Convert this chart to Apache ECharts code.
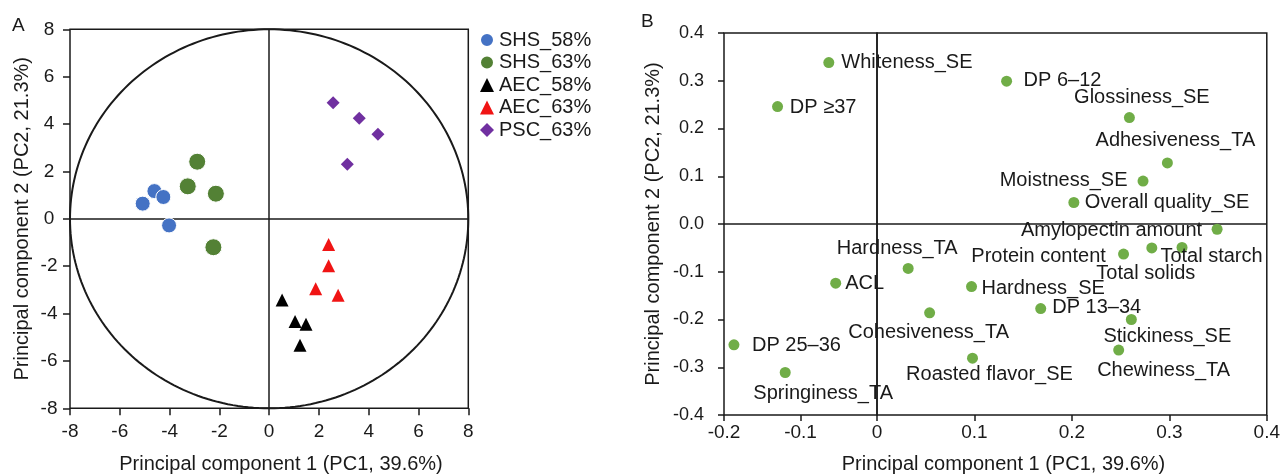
<!DOCTYPE html>
<html><head><meta charset="utf-8">
<script src="https://cdn.jsdelivr.net/npm/echarts@6/dist/echarts.min.js"></script>
<style>html,body{margin:0;padding:0;background:#fff}#c{width:1283px;height:474px}</style>
</head><body><div id="c"></div>
<script>
// ---------- Panel A: scores ----------
const A_NAMES = ['SHS_58%', 'SHS_63%', 'AEC_58%', 'AEC_63%', 'PSC_63%'];
const SHS_58 = [[-5.08, 0.64], [-4.61, 1.17], [-4.25, 0.92], [-4.02, -0.28]];
const SHS_63 = [[-2.89, 2.41], [-3.27, 1.37], [-2.14, 1.06], [-2.24, -1.20]];
const AEC_58 = [[0.52, -3.43], [1.04, -4.34], [1.48, -4.45], [1.24, -5.34]];
const AEC_63 = [[2.39, -1.09], [2.39, -1.98], [1.87, -2.95], [2.77, -3.23]];
const PSC_63 = [[2.57, 4.90], [3.62, 4.25], [4.37, 3.57], [3.14, 2.30]];
const A_AXIS = { min: -8, max: 8, interval: 2 };
const CIRCLE_R = 8;

// ---------- Panel B: loadings ----------
const B_NAMES = ['Whiteness_SE', 'DP \u226537', 'DP 6\u201312', 'Glossiness_SE', 'Adhesiveness_TA',
  'Moistness_SE', 'Overall quality_SE', 'Amylopectin amount', 'Protein content', 'Total solids',
  'Total starch', 'Hardness_TA', 'ACL', 'Hardness_SE', 'DP 13\u201334', 'Cohesiveness_TA',
  'Stickiness_SE', 'DP 25\u201336', 'Chewiness_TA', 'Roasted flavor_SE', 'Springiness_TA'];
const B_PC1 = [-0.063, -0.130, 0.133, 0.259, 0.298, 0.273, 0.202, 0.349, 0.253, 0.282,
  0.313, 0.032, -0.054, 0.097, 0.168, 0.054, 0.261, -0.187, 0.248, 0.098, -0.120];
const B_PC2 = [0.338, 0.246, 0.299, 0.223, 0.128, 0.090, 0.045, -0.011, -0.063, -0.050,
  -0.049, -0.093, -0.124, -0.131, -0.177, -0.186, -0.200, -0.253, -0.264, -0.281, -0.311];
const B_X_NEG = { min: -0.2, max: 0, interval: 0.1 };
const B_X_POS = { min: 0, max: 0.4, interval: 0.1 };
const B_Y = { min: -0.4, max: 0.4, interval: 0.1 };

// label placement (annotation layout): align + offset of label anchor from the point
const B_LABEL_ALIGN = ['left', 'left', 'left', 'center', 'center', 'right', 'left', 'right', 'right', 'center',
  'center', 'center', 'left', 'left', 'left', 'center', 'center', 'left', 'center', 'center', 'center'];
const B_LABEL_DX = [12.5, 12.3, 17, 12.5, 8, -15.5, 11, -15, -17.7, -6, 29.5, -11, 9.5, 10, 11.5, -1, 36, 18, 45, 17, 38];
const B_LABEL_DY = [0, 1, -1, -20.4, -22, -1, 0, 1, 2.4, 25.6, 9.4, -20, 0, 2, -1, 20, 16.7, 1, 20, 16.7, 20.6];

const FONT = '"Liberation Sans", Arial, Helvetica, sans-serif';
const INK = '#1a1a1a';

const chart = echarts.init(document.getElementById('c'), null, { renderer: 'canvas' });

// note: with onZero:false the ticks point into the plot when inside is false here
function tick(len) {
  return { show: true, inside: false, length: len, lineStyle: { color: INK, width: 1.5 } };
}
function axisBase(extra) {
  return Object.assign({
    type: 'value',
    axisLine: { show: false, onZero: false },
    axisTick: tick(6),
    splitLine: { show: false },
    axisLabel: { color: INK, fontSize: 19, fontFamily: FONT }
  }, extra);
}

const aStyles = [
  { symbol: 'circle', size: 15, color: '#4472C4', border: '#ffffff', bw: 1 },
  { symbol: 'circle', size: 17, color: '#538135', border: '#ffffff', bw: 1 },
  { symbol: 'triangle', size: 13, color: '#000000', border: null, bw: 0 },
  { symbol: 'triangle', size: 13, color: '#F01414', border: null, bw: 0 },
  { symbol: 'diamond', size: 13, color: '#7030A0', border: null, bw: 0 }
];
const aData = [SHS_58, SHS_63, AEC_58, AEC_63, PSC_63];

const series = [];
// correlation circle
series.push({
  type: 'custom', name: 'circle', xAxisIndex: 0, yAxisIndex: 0, silent: true, z: 1,
  data: [[0, 0]],
  renderItem: function (params, api) {
    const c = api.coord([0, 0]);
    const ex = api.coord([CIRCLE_R, 0]);
    const ey = api.coord([0, CIRCLE_R]);
    const rx = ex[0] - c[0], ry = c[1] - ey[1];
    const pts = [];
    for (let i = 0; i <= 240; i++) {
      const t = i / 240 * 2 * Math.PI;
      pts.push([c[0] + rx * Math.cos(t), c[1] + ry * Math.sin(t)]);
    }
    return { type: 'polygon', shape: { points: pts }, style: { fill: 'none', stroke: INK, lineWidth: 2 } };
  }
});
A_NAMES.forEach(function (nm, i) {
  const s = aStyles[i];
  const ser = {
    type: 'scatter', name: nm, xAxisIndex: 0, yAxisIndex: 0, z: 5,
    symbol: s.symbol, symbolSize: s.size,
    itemStyle: { color: s.color, borderColor: s.border || s.color, borderWidth: s.bw, opacity: 1 },
    emphasis: { disabled: true },
    data: aData[i]
  };
  if (i === 0) {
    ser.markLine = {
      silent: true, symbol: ['none', 'none'], label: { show: false }, animation: false,
      lineStyle: { color: INK, width: 1.5, type: 'solid' },
      data: [{ xAxis: 0 }, { yAxis: 0 }]
    };
  }
  series.push(ser);
});

// Panel B points split by sign of PC1 into the two half-grids
const negData = [], posData = [];
B_NAMES.forEach(function (nm, i) {
  const item = {
    name: nm, value: [B_PC1[i], B_PC2[i]],
    label: { align: B_LABEL_ALIGN[i], offset: [B_LABEL_DX[i], B_LABEL_DY[i]] }
  };
  (B_PC1[i] < 0 ? negData : posData).push(item);
});
function bSeries(data, idx) {
  return {
    type: 'scatter', name: 'loadings' + idx, xAxisIndex: idx, yAxisIndex: idx, z: 5,
    symbol: 'circle', symbolSize: 11,
    itemStyle: { color: '#70AD47', opacity: 1 },
    emphasis: { disabled: true },
    label: { show: true, position: 'inside', formatter: '{b}', color: INK, fontSize: 20, fontFamily: FONT, verticalAlign: 'middle' },
    markLine: {
      silent: true, symbol: ['none', 'none'], label: { show: false }, animation: false,
      lineStyle: { color: INK, width: 1.5, type: 'solid' },
      data: [{ yAxis: 0 }]
    },
    data: data
  };
}
series.push(bSeries(negData, 1));
series.push(bSeries(posData, 2));

const gridStyle = { show: true, borderColor: INK, borderWidth: 1.5, backgroundColor: 'transparent' };

chart.setOption({
  animation: false,
  textStyle: { fontFamily: FONT },
  legend: {
    data: A_NAMES, orient: 'vertical', left: 474, top: 25,
    itemWidth: 14, itemHeight: 14, itemGap: 2.5,
    textStyle: { fontSize: 20, color: INK, fontFamily: FONT },
    selectedMode: false
  },
  grid: [
    Object.assign({ left: 70, top: 29.3, width: 398.3, height: 379 }, gridStyle),
    Object.assign({ left: 724, top: 33, width: 153, height: 382 }, gridStyle),
    Object.assign({ left: 877, top: 33, width: 393, height: 382 }, gridStyle)
  ],
  xAxis: [
    axisBase({ gridIndex: 0, min: A_AXIS.min, max: A_AXIS.max, interval: A_AXIS.interval,
      axisTick: tick(7),
      axisLabel: { color: INK, fontSize: 19, fontFamily: FONT, margin: 14 } }),
    axisBase({ gridIndex: 1, min: B_X_NEG.min, max: B_X_NEG.max, interval: B_X_NEG.interval,
      axisLabel: { color: INK, fontSize: 19, fontFamily: FONT, margin: 8,
        formatter: function (v) { return Math.abs(v) < 1e-9 ? '0' : v.toFixed(1); } } }),
    axisBase({ gridIndex: 2, min: B_X_POS.min, max: B_X_POS.max, interval: B_X_POS.interval,
      axisLabel: { color: INK, fontSize: 19, fontFamily: FONT, margin: 8,
        formatter: function (v) { return Math.abs(v) < 1e-9 ? '' : v.toFixed(1); } } })
  ],
  yAxis: [
    axisBase({ gridIndex: 0, min: A_AXIS.min, max: A_AXIS.max, interval: A_AXIS.interval,
      axisTick: tick(7),
      axisLabel: { color: INK, fontSize: 19, fontFamily: FONT, margin: 21, align: 'center' },
      name: 'Principal component 2 (PC2, 21.3%)', nameLocation: 'middle', nameGap: 38,
      nameTextStyle: { fontSize: 20, color: INK, fontFamily: FONT } }),
    axisBase({ gridIndex: 1, min: B_Y.min, max: B_Y.max, interval: B_Y.interval,
      axisLabel: { color: INK, fontSize: 18, fontFamily: FONT, margin: 20,
        formatter: function (v) { return (Math.abs(v) < 1e-9 ? 0 : v).toFixed(1); } },
      name: 'Principal component 2 (PC2, 21.3%)', nameLocation: 'middle', nameGap: 61,
      nameTextStyle: { fontSize: 20, color: INK, fontFamily: FONT } }),
    { type: 'value', gridIndex: 2, min: B_Y.min, max: B_Y.max, interval: B_Y.interval, show: false }
  ],
  graphic: [
    { type: 'text', left: 12, top: 16, style: { text: 'A', font: '19px ' + FONT, fill: INK } },
    { type: 'text', left: 641, top: 12, style: { text: 'B', font: '19px ' + FONT, fill: INK } },
    { type: 'text', x: 281, y: 464, style: { text: 'Principal component 1 (PC1, 39.6%)', font: '20px ' + FONT, fill: INK, textAlign: 'center', textVerticalAlign: 'middle' } },
    { type: 'text', x: 1003.5, y: 464, style: { text: 'Principal component 1 (PC1, 39.6%)', font: '20px ' + FONT, fill: INK, textAlign: 'center', textVerticalAlign: 'middle' } }
  ],
  series: series
});
</script>
</body></html>
